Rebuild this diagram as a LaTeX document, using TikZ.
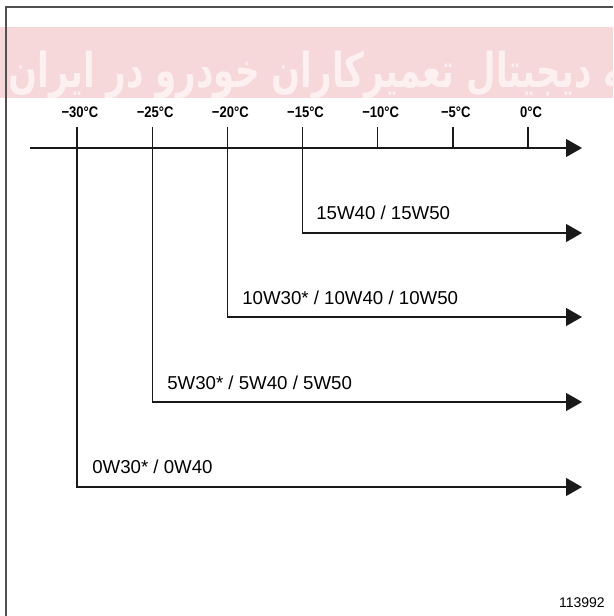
\documentclass[tikz,border=0pt]{standalone}
\usepackage{fontspec}
\setmainfont{Liberation Sans}
\newfontfamily\condfont[FakeStretch=0.85]{Liberation Sans}
\newfontfamily\arabicfont[Script=Arabic,FakeStretch=0.71]{DejaVu Sans}
\TeXXeTstate=1
\usetikzlibrary{arrows.meta}
\definecolor{bandpink}{RGB}{246,216,219}
\definecolor{markpink}{RGB}{252,240,241}
\definecolor{inkgray}{RGB}{25,25,25}
\definecolor{framegray}{RGB}{80,80,80}

\begin{document}
\begin{tikzpicture}[
    x=0.75pt, y=-0.75pt,
    axis line/.style={draw=inkgray, line width=1pt},
    oil arrow/.style={
        axis line,
        -{Triangle[length=12pt,width=13.5pt]}
    },
    temp label/.style={font=\condfont\bfseries\fontsize{11.5}{12}\selectfont, anchor=base, inner sep=0pt},
    oil label/.style={font=\fontsize{14}{15}\selectfont, anchor=base west, inner sep=0pt}
]
\useasboundingbox (0,0) rectangle (613,616);

% watermark band
\begin{scope}
    \clip (0,27) rectangle (613,98);
    \fill[bandpink] (0,27) rectangle (613,98);
    \node[anchor=base west, inner sep=0pt, text=markpink,
        font=\arabicfont\bfseries\fontsize{36}{36}\selectfont] (watermark) at (8,88)
        {\beginR سامانه دیجیتال تعمیرکاران خودرو در ایران\endR};
\end{scope}
\draw[framegray, line width=0.8pt] (6,616) -- (6,7) -- (613,7);

% temperature axis
\coordinate (axis start) at (30,148);
\coordinate (axis end) at (582,148);
\draw[oil arrow] (axis start) -- (axis end);
\foreach \t [count=\i from 0] in {−30,−25,−20,−15,−10,−5,0}
{
    \coordinate (tick\i) at ({77+75.17*\i},148);
    \coordinate (tick top\i) at ({77+75.17*\i},127);
    \draw[axis line] (tick top\i) -- (tick\i);
    \node[temp label] (temp\i) at ({80+75.17*\i},118) {\t°C};
}

% oil grades
\coordinate (end15) at (582,233);
\draw[oil arrow] (tick3) |- (end15);
\node[oil label] (grade15) at (316,220) {15W40 / 15W50};

\coordinate (end10) at (582,317);
\draw[oil arrow] (tick2) |- (end10);
\node[oil label] (grade10) at (242,304) {10W30* / 10W40 / 10W50};

\coordinate (end5) at (582,402);
\draw[oil arrow] (tick1) |- (end5);
\node[oil label] (grade5) at (167,389) {5W30* / 5W40 / 5W50};

\coordinate (end0) at (582,487);
\draw[oil arrow] (tick0) |- (end0);
\node[oil label] (grade0) at (92,473) {0W30* / 0W40};

\node[anchor=base east, inner sep=0pt, font=\fontsize{10.5}{11}\selectfont] (figno) at (605,607) {113992};
\end{tikzpicture}
\end{document}
